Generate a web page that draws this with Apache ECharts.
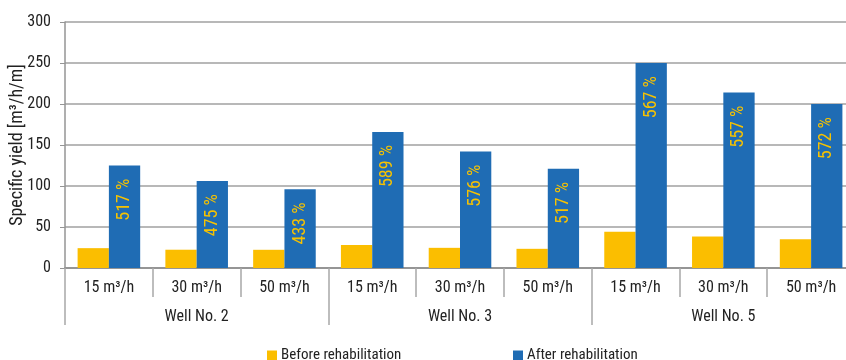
<!DOCTYPE html>
<html>
<head>
<meta charset="utf-8">
<script src="https://cdn.jsdelivr.net/npm/echarts@6/dist/echarts.min.js"></script>
<style>
  html, body { margin: 0; padding: 0; background: #fff; }
  #chart { width: 846px; height: 360px; }
</style>
</head>
<body>
<div id="chart"></div>
<script>
// Pumping rates per well and the well groups below them
const rates = ['15 m³/h', '30 m³/h', '50 m³/h', '15 m³/h', '30 m³/h', '50 m³/h', '15 m³/h', '30 m³/h', '50 m³/h'];
const wells = ['Well No. 2', 'Well No. 3', 'Well No. 5'];
// Specific yield [m³/h/m]
const beforeRehab = [24.2, 22.3, 22.2, 28.2, 24.6, 23.4, 44.1, 38.4, 35.0];
const afterRehab = [125, 106, 96, 166, 142, 121, 250, 214, 200];
// Improvement after rehabilitation [%]
const improvement = [517, 475, 433, 589, 576, 517, 567, 557, 572];
const yTicks = { min: 0, max: 300, interval: 50 };

const FONT = "'Liberation Sans Narrow', 'Roboto Condensed', 'Arial Narrow', Roboto, sans-serif";
const YELLOW = '#FBBE00';
const BLUE = '#1F6CB4';
const GREY = '#959595';

const chart = echarts.init(document.getElementById('chart'), null, { renderer: 'canvas' });
chart.setOption({
  animation: false,
  textStyle: { fontFamily: FONT },
  grid: { left: 65, right: -9, top: 22, bottom: 92, containLabel: false, outerBoundsMode: 'none' },
  legend: [
    {
      data: ['Before rehabilitation'], left: 267, top: 348, padding: 0,
      itemWidth: 10, itemHeight: 10, icon: 'rect', itemGap: 4,
      textStyle: { fontFamily: FONT, fontSize: 15, color: '#222', padding: [0, 0, 0, -1] }
    },
    {
      data: ['After rehabilitation'], left: 513, top: 348, padding: 0,
      itemWidth: 10, itemHeight: 10, icon: 'rect', itemGap: 4,
      textStyle: { fontFamily: FONT, fontSize: 15, color: '#222', padding: [0, 0, 0, -1] }
    }
  ],
  xAxis: [
    {
      type: 'category', data: rates, position: 'bottom',
      axisLine: { show: true, lineStyle: { color: GREY, width: 2 } },
      axisTick: { show: true, length: 29, lineStyle: { color: '#a8a8a8', width: 1.5 } },
      axisLabel: { margin: 12, fontSize: 16, color: '#222', fontFamily: FONT }
    },
    {
      type: 'category', data: wells, position: 'bottom', gridIndex: 0,
      axisLine: { show: false },
      axisTick: { show: true, length: 57, lineStyle: { color: '#a8a8a8', width: 1.5 } },
      axisLabel: { margin: 41, fontSize: 16, color: '#222', fontFamily: FONT }
    }
  ],
  yAxis: {
    type: 'value', min: yTicks.min, max: yTicks.max, interval: yTicks.interval,
    name: 'Specific yield [m³/h/m]', nameLocation: 'middle', nameGap: 39, nameRotate: 90,
    nameMoveOverlap: false,
    nameTextStyle: { fontSize: 18, color: '#222', fontFamily: FONT },
    axisLine: { show: true, lineStyle: { color: GREY, width: 1.5 } },
    axisTick: { show: true, length: 5, lineStyle: { color: GREY } },
    axisLabel: { margin: 14, fontSize: 16, color: '#222', fontFamily: FONT },
    splitLine: { lineStyle: { color: '#a0a0a0', width: 1.5 } }
  },
  series: [
    {
      name: 'Before rehabilitation', type: 'bar', data: beforeRehab,
      barGap: '0%', barCategoryGap: '28.7%',
      itemStyle: { color: YELLOW }
    },
    {
      name: 'After rehabilitation', type: 'bar', data: afterRehab,
      barGap: '0%', barCategoryGap: '28.7%',
      itemStyle: { color: BLUE },
      label: {
        show: true, position: 'insideTop', distance: 13, rotate: 90,
        align: 'right', verticalAlign: 'middle',
        color: '#F7C200', fontSize: 18, fontFamily: FONT,
        formatter: p => improvement[p.dataIndex] + ' %'
      }
    }
  ]
});
</script>
</body>
</html>
